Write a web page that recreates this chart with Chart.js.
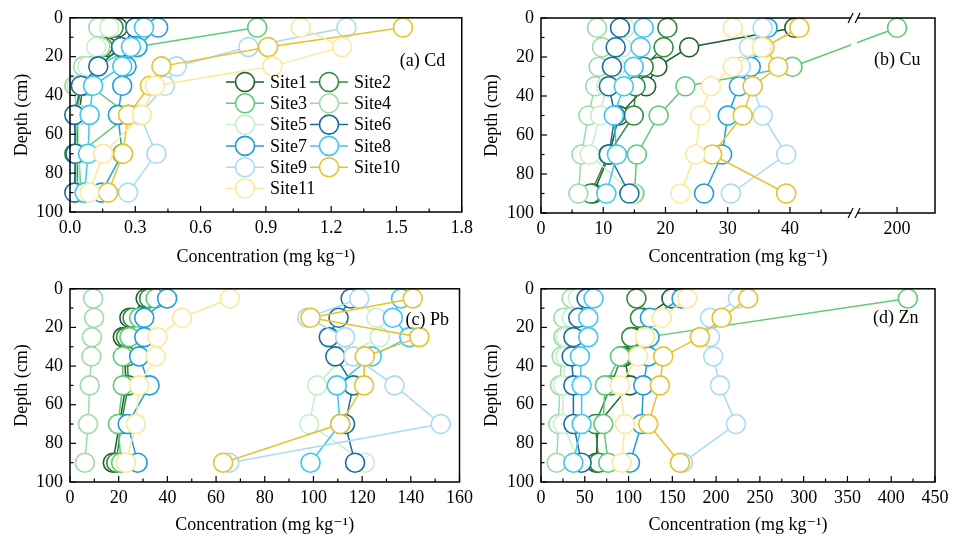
<!DOCTYPE html>
<html><head><meta charset="utf-8">
<script src="https://cdn.jsdelivr.net/npm/chart.js@4.4.1/dist/chart.umd.min.js"></script>
<style>
html,body{margin:0;padding:0;background:#fff;width:955px;height:542px;overflow:hidden}
canvas{position:absolute}
</style></head><body>
<canvas id="panelA" width="478" height="271" style="left:0;top:0"></canvas>
<canvas id="panelB" width="485" height="271" style="left:470px;top:0"></canvas>
<canvas id="panelC" width="478" height="271" style="left:0;top:271px"></canvas>
<canvas id="panelD" width="485" height="271" style="left:470px;top:271px"></canvas>
<script>
// ---------- data ----------
const depths = [5, 15, 25, 35, 50, 70, 90];
const sites = ['Site1','Site2','Site3','Site4','Site5','Site6','Site7','Site8','Site9','Site10','Site11'];
const colors = ['#1e5e2d','#2f8a3e','#5fca79','#9ddbaa','#c8eecb','#1a6f9a','#1f9fd8','#3ec7f2','#a8dcf2','#e6c22c','#fbe99a'];

const cd = [
  [0.22,0.17,0.10,0.06,0.04,0.03,0.04],
  [0.20,0.15,0.08,0.05,0.03,0.02,0.03],
  [0.86,0.30,0.12,0.09,0.27,0.04,0.05],
  [0.13,0.14,0.06,0.02,0.03,0.03,0.03],
  [0.18,0.12,0.08,0.03,0.04,0.04,0.04],
  [0.30,0.235,0.13,0.05,0.02,0.025,0.02],
  [0.405,0.31,0.26,0.24,0.22,0.24,0.144],
  [0.34,0.28,0.24,0.106,0.09,0.083,0.067],
  [1.27,0.82,0.49,0.436,0.32,0.397,0.267],
  [1.53,0.91,0.42,0.367,0.267,0.244,0.175],
  [1.06,1.25,0.93,0.39,0.33,0.152,0.09]
];
const cu = [
  [40.7,23.8,18.7,16.9,12.5,11.0,8.4],
  [20.3,19.7,16.5,15.2,14.9,10.8,8.0],
  [200,null,40.4,23.2,18.9,15.4,15.0],
  [9.0,9.8,9.25,8.7,7.6,6.5,6.0],
  [13.5,13.0,12.0,10.5,9.5,7.8,14.8],
  [12.7,12.0,11.4,10.9,11.9,10.9,14.2],
  [36.4,35.0,33.7,31.8,30.0,29.1,26.2],
  [16.5,16.0,14.9,13.3,11.7,12.2,10.5],
  [35.6,33.4,32.1,34.0,35.6,39.4,30.5],
  [41.5,35.9,38.1,34.0,32.4,27.5,39.4],
  [30.8,35.5,30.8,27.3,25.6,24.8,22.4]
];
const pb = [
  [31.1,24.4,21.7,22.5,23.0,20.3,17.6],
  [32.5,25.7,23.0,23.5,24.0,21.0,19.0],
  [35.2,28.4,24.4,21.7,21.7,19.7,21.0],
  [9.5,9.9,9.0,8.8,8.1,7.4,6.1],
  [118,125.9,127.2,112,101.5,98.2,121.1],
  [115.3,110.3,106.3,109.0,116.4,113.0,117.1],
  [39.9,30.5,30.5,28.4,32.7,23.7,27.8],
  [136.0,132.6,139.4,123.9,109.6,111.0,98.8],
  [118.8,97.5,113.0,116.4,133.3,152.3,65.4],
  [140.8,98.8,143.5,121.1,120.8,111.0,62.9],
  [65.7,46.0,35.9,35.2,28.4,27.1,23.0]
];
const zn = [
  [149,117,105,95,101.6,65,63],
  [109,113,103,92,80,62,66],
  [419,null,121,90.2,73,71.1,76.8],
  [35,25.5,25.5,23.6,21.7,19.8,17.9],
  [42,35,28,28,25,25,44],
  [52,42.6,37,35,37,37,46.4],
  [160.6,124.4,124,122.5,116.8,115,101.6],
  [60,54,54,44.5,46.4,46.4,37],
  [225,193,193,196.7,204.3,222.6,162],
  [236.6,206.3,181.5,139.6,135.8,122.5,158.7],
  [167,137.8,118.7,111,90.2,95.9,92.1]
];

const depthTicks = [0, 20, 40, 60, 80, 100];
const depthMinor = [10, 30, 50, 70, 90];
const cdTicks = [0, 0.3, 0.6, 0.9, 1.2, 1.5, 1.8];
const cdTickLabels = ['0.0','0.3','0.6','0.9','1.2','1.5','1.8'];
const cdMinor = [0.15, 0.45, 0.75, 1.05, 1.35, 1.65];
const cuTicks = [0, 10, 20, 30, 40, 200];
const cuMinor = [5, 15, 25, 35, 45];
const pbTicks = [0, 20, 40, 60, 80, 100, 120, 140, 160];
const pbMinor = [10, 30, 50, 70, 90, 110, 130, 150];
const znTicks = [0, 50, 100, 150, 200, 250, 300, 350, 400, 450];
const znMinor = [25, 75, 125, 175, 225, 275, 325, 375, 425];

// broken Cu axis: values above the break are shifted next to it
const cuBreakAxis = v => (v > 100 ? v - 200 + 57.2 : v);

// ---------- chart ----------
const FONT = "'Liberation Serif','Times New Roman','DejaVu Serif',serif";
Chart.defaults.font.family = FONT;
Chart.defaults.color = '#000';

function framePlugin(cfg) {
  const map = cfg.map || (v => v);
  return {
    id: 'frame',
    afterDraw(chart) {
      const {ctx, chartArea: a, scales: {x, y}} = chart;
      const seg = (x1, y1, x2, y2) => { ctx.beginPath(); ctx.moveTo(x1, y1); ctx.lineTo(x2, y2); ctx.stroke(); };
      ctx.save();
      ctx.strokeStyle = '#000';
      ctx.lineWidth = 1.5;
      ctx.strokeRect(a.left, a.top, a.right - a.left, a.bottom - a.top);
      ctx.lineWidth = 1.2;
      cfg.xMajor.forEach(v => { const p = x.getPixelForValue(map(v)); seg(p, a.bottom, p, a.bottom - 6); });
      cfg.xMinor.forEach(v => { const p = x.getPixelForValue(v); seg(p, a.bottom, p, a.bottom - 3.5); });
      depthTicks.forEach(v => { const p = y.getPixelForValue(v); seg(a.left, p, a.left + 6, p); });
      depthMinor.forEach(v => { const p = y.getPixelForValue(v); seg(a.left, p, a.left + 3.5, p); });
      if (cfg.breakAt != null) {
        const bx = x.getPixelForValue(cfg.breakAt);
        ctx.fillStyle = '#fff';
        ctx.fillRect(bx - 3, a.top - 4, 6, a.bottom - a.top + 8);
        ctx.lineWidth = 1.2;
        [a.top, a.bottom].forEach(yy => {
          seg(bx - 6, yy + 5, bx - 1, yy - 5);
          seg(bx + 1, yy + 5, bx + 6, yy - 5);
        });
      }
      ctx.fillStyle = '#000';
      ctx.font = '18px ' + FONT;
      ctx.textBaseline = 'middle';
      ctx.textAlign = 'left';
      ctx.fillText(cfg.label, a.right - cfg.labelDx, a.top + cfg.labelDy);
      if (cfg.legend) {
        const L = cfg.legend;
        chart.data.datasets.forEach((ds, i) => {
          const col = i % 2, row = Math.floor(i / 2);
          const lx = L.x + col * L.colW, ly = L.y + row * L.rowH;
          ctx.strokeStyle = ds.borderColor;
          ctx.lineWidth = 1.5;
          seg(lx, ly, lx + 38, ly);
          ctx.beginPath();
          ctx.arc(lx + 19, ly, 9.5, 0, Math.PI * 2);
          ctx.fillStyle = '#fff';
          ctx.fill();
          ctx.lineWidth = 1.6;
          ctx.stroke();
          ctx.fillStyle = '#000';
          ctx.fillText(ds.label, lx + 44, ly + 1);
        });
      }
      ctx.restore();
    }
  };
}

function makePanel(id, values, o) {
  const map = o.map || (v => v);
  const datasets = sites.map((name, i) => ({
    label: name,
    data: depths.map((d, j) => values[i][j] == null ? null : {x: map(values[i][j]), y: d}).filter(p => p),
    borderColor: colors[i],
    backgroundColor: '#fff',
    pointBackgroundColor: '#fff',
    pointBorderColor: colors[i],
    pointRadius: 9.5,
    pointHoverRadius: 9.5,
    pointBorderWidth: 1.6,
    borderWidth: 1.5,
    tension: 0,
    fill: false,
    clip: false,
    order: sites.length - i
  }));
  return new Chart(document.getElementById(id), {
    type: 'line',
    data: {datasets},
    plugins: [framePlugin({xMajor: o.ticks, xMinor: o.minor, map: o.map, breakAt: o.breakAt,
                           label: o.label, labelDx: o.labelDx, labelDy: o.labelDy, legend: o.legend})],
    options: {
      responsive: false,
      animation: false,
      devicePixelRatio: 1,
      layout: {padding: o.pad},
      plugins: {legend: {display: false}, tooltip: {enabled: false}},
      scales: {
        x: {
          type: 'linear', min: o.min, max: o.max,
          afterBuildTicks: s => { s.ticks = o.ticks.map(v => ({value: map(v)})); },
          afterFit: s => { s.height = o.xh; },
          ticks: {font: {size: 18}, color: '#000', padding: 5, maxRotation: 0, autoSkip: false,
                  callback: (v, i) => o.tickLabels[i]},
          grid: {display: false, drawTicks: false},
          border: {display: false},
          title: {display: true, text: 'Concentration (mg kg\u207B\u00B9)', font: {size: 18}, color: '#000',
                  padding: {top: 0, bottom: o.xtp}}
        },
        y: {
          type: 'linear', reverse: true, min: 0, max: 100,
          afterBuildTicks: s => { s.ticks = depthTicks.map(v => ({value: v})); },
          afterFit: s => { s.width = o.yw; },
          ticks: {font: {size: 18}, color: '#000', padding: 7},
          grid: {display: false, drawTicks: false},
          border: {display: false},
          title: {display: true, text: 'Depth (cm)', font: {size: 18}, color: '#000',
                  padding: {top: 11, bottom: 0}}
        }
      }
    }
  });
}

makePanel('panelA', cd, {
  min: 0, max: 1.8, ticks: cdTicks, tickLabels: cdTickLabels, minor: cdMinor,
  pad: {left: 0, top: 17, right: 15, bottom: 0}, yw: 70, xh: 59, xtp: 3,
  label: '(a) Cd', labelDx: 62, labelDy: 43,
  legend: {x: 226, y: 82, colW: 84, rowH: 21.3}
});
makePanel('panelB', cu, {
  min: 0, max: 63.3, ticks: cuTicks, tickLabels: cuTicks.map(v => String(v)), minor: cuMinor,
  map: cuBreakAxis, breakAt: 50.3,
  pad: {left: 0, top: 18, right: 20, bottom: 0}, yw: 71, xh: 58, xtp: 3,
  label: '(b) Cu', labelDx: 61, labelDy: 42
});
makePanel('panelC', pb, {
  min: 0, max: 160, ticks: pbTicks, tickLabels: pbTicks.map(v => String(v)), minor: pbMinor,
  pad: {left: 0, top: 15, right: 14, bottom: 0}, yw: 70, xh: 60, xtp: 6,
  label: '(c) Pb', labelDx: 54, labelDy: 31
});
makePanel('panelD', zn, {
  min: 0, max: 450, ticks: znTicks, tickLabels: znTicks.map(v => String(v)), minor: znMinor,
  pad: {left: 0, top: 15, right: 20, bottom: 0}, yw: 71, xh: 60, xtp: 6,
  label: '(d) Zn', labelDx: 62, labelDy: 29
});
</script>
</body></html>
